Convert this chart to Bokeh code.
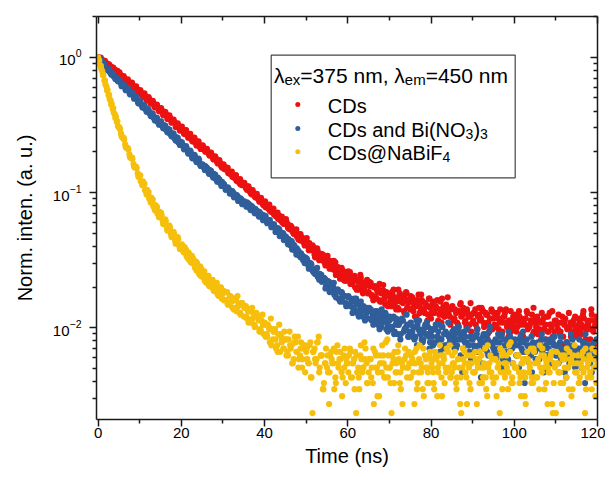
import math
from bokeh.plotting import figure
from bokeh.models import (Range1d, LinearAxis, LogAxis, FixedTicker, Label)
from bokeh.embed import file_html
from bokeh.resources import INLINE

# ---------------- data: photon counts ------------
# three interleaved channel sets: t = 0, 0.5, ... 120 ; t = 0.25, 0.75, ...
# and t = 0.125, 0.625, ... ; all normalised to the first channel
time_ns = [round(0.5 * i, 3) for i in range(241)]
time_mid_ns = [round(0.25 + 0.5 * i, 3) for i in range(240)]
time_q_ns = [round(0.125 + 0.5 * i, 3) for i in range(240)]
PEAK = 2560

cds_counts = [
    2560, 2468, 2441, 2330, 2312, 2203, 2188, 2079, 2071, 1955,
    1931, 1848, 1842, 1739, 1735, 1641, 1637, 1540, 1544, 1451,
    1440, 1360, 1352, 1276, 1270, 1196, 1193, 1121, 1125, 1050,
    1049, 1005, 985, 952, 922, 880, 871, 838, 795, 786,
    761, 725, 737, 690, 668, 652, 631, 617, 589, 566,
    556, 531, 537, 497, 486, 470, 461, 439, 433, 408,
    402, 381, 389, 360, 348, 341, 326, 322, 300, 295,
    291, 276, 283, 259, 248, 252, 236, 229, 226, 212,
    206, 204, 193, 189, 184, 176, 168, 172, 158, 160,
    150, 149, 137, 142, 127, 132, 121, 114, 119, 108,
    113, 103, 99, 104, 89, 96, 85, 82, 89, 77,
    81, 73, 76, 69, 78, 64, 67, 71, 58, 63,
    59, 66, 54, 61, 57, 50, 63, 52, 48, 56,
    47, 55, 44, 52, 49, 41, 46, 53, 38, 45,
    44, 37, 49, 40, 36, 46, 42, 34, 47, 39,
    35, 43, 38, 31, 45, 36, 40, 33, 37, 42,
    30, 39, 35, 41, 32, 28, 37, 34, 43, 31,
    36, 29, 33, 27, 38, 32, 35, 26, 31, 39,
    28, 33, 25, 36, 30, 34, 27, 32, 24, 35,
    30, 26, 33, 28, 23, 31, 35, 27, 29, 25,
    32, 24, 28, 30, 22, 27, 34, 26, 29, 23,
    28, 31, 25, 21, 30, 27, 24, 33, 26, 22,
    29, 25, 23, 31, 27, 20, 26, 28, 24, 30,
    22, 27, 25, 32, 26, 19, 29, 35, 24, 27,
    28,
]
cds_mid_counts = [
    2531, 2436, 2405, 2298, 2281, 2170, 2152, 2046, 2028, 1921,
    1910, 1812, 1801, 1710, 1703, 1612, 1608, 1518, 1510, 1420,
    1416, 1335, 1331, 1250, 1258, 1175, 1178, 1101, 1106, 1031,
    1040, 972, 975, 908, 915, 851, 856, 790, 802, 748,
    731, 738, 684, 693, 641, 650, 601, 610, 563, 570,
    555, 513, 522, 480, 489, 449, 458, 420, 427, 392,
    383, 392, 357, 364, 335, 341, 313, 320, 294, 299,
    290, 268, 274, 251, 256, 236, 240, 219, 224, 206,
    199, 207, 188, 193, 176, 180, 164, 169, 154, 158,
    156, 141, 145, 131, 135, 121, 126, 113, 117, 106,
    104, 108, 96, 101, 90, 95, 84, 89, 79, 84,
    75, 80, 70, 74, 65, 71, 61, 68, 57, 64,
    64, 55, 60, 51, 58, 49, 56, 47, 54, 46,
    52, 44, 51, 43, 50, 40, 48, 42, 47, 39,
    41, 45, 38, 43, 35, 44, 39, 42, 36, 40,
    40, 34, 39, 37, 33, 41, 35, 38, 32, 36,
    38, 33, 36, 29, 40, 34, 31, 37, 32, 35,
    30, 35, 28, 34, 31, 36, 29, 33, 27, 32,
    33, 27, 31, 29, 35, 26, 32, 28, 30, 25,
    27, 31, 25, 30, 28, 33, 26, 29, 24, 31,
    29, 26, 31, 23, 28, 30, 25, 27, 32, 24,
    26, 29, 23, 28, 25, 31, 24, 27, 22, 29,
    27, 24, 28, 22, 30, 25, 26, 23, 29, 25,
    24, 28, 23, 30, 25, 27, 21, 29, 26, 31,
]
cds_q_counts = [
    2490, 2540, 2350, 2405, 2215, 2270, 2090, 2150, 1960, 2030,
    1975, 1790, 1860, 1685, 1760, 1590, 1665, 1500, 1560, 1405,
    1465, 1320, 1385, 1240, 1300, 1160, 1220, 1090, 1145, 1020,
    1075, 955, 1010, 895, 950, 840, 885, 780, 830, 735,
    785, 695, 740, 650, 695, 612, 652, 570, 612, 538,
    572, 530, 538, 500, 505, 455, 474, 428, 445, 398,
    414, 380, 390, 352, 366, 330, 344, 309, 321, 290,
    302, 275, 284, 255, 267, 240, 250, 224, 234, 210,
    220, 200, 208, 184, 195, 172, 182, 161, 170, 150,
    163, 140, 146, 134, 127, 137, 115, 126, 116, 104,
    118, 96, 103, 97, 85, 99, 81, 90, 86, 74,
    87, 70, 75, 80, 63, 72, 59, 68, 66, 57,
    67, 54, 57, 62, 49, 55, 60, 46, 52, 58,
    56, 45, 41, 51, 47, 54, 40, 48, 44, 37,
    38, 47, 42, 35, 49, 40, 44, 33, 46, 41,
    44, 36, 31, 41, 38, 45, 34, 39, 29, 42,
    33, 40, 37, 28, 35, 42, 31, 38, 34, 27,
    37, 30, 34, 26, 39, 32, 28, 35, 31, 24,
    29, 35, 25, 32, 36, 28, 33, 23, 30, 34,
    33, 26, 30, 35, 24, 31, 28, 22, 34, 27,
    25, 31, 34, 27, 22, 30, 33, 26, 29, 36,
    30, 23, 28, 33, 25, 21, 31, 27, 34, 24,
    28, 32, 24, 19, 29, 26, 33, 22, 27, 31,
    23, 30, 27, 34, 21, 28, 25, 32, 19, 29,
]

cds_bi_counts = [
    2560, 2440, 2352, 2230, 2148, 2045, 1988, 1890, 1842, 1752,
    1702, 1630, 1612, 1519, 1495, 1415, 1382, 1320, 1289, 1214,
    1185, 1130, 1120, 1061, 1030, 990, 967, 920, 898, 852,
    840, 801, 781, 751, 710, 700, 666, 640, 622, 594,
    589, 553, 545, 517, 511, 478, 467, 446, 432, 412,
    414, 391, 389, 364, 359, 346, 338, 317, 312, 297,
    296, 281, 273, 268, 251, 255, 238, 241, 227, 226,
    218, 211, 209, 196, 201, 190, 184, 180, 172, 170,
    167, 159, 160, 150, 146, 142, 135, 137, 124, 127,
    119, 116, 108, 112, 101, 99, 95, 91, 87, 82,
    80, 74, 77, 68, 66, 70, 60, 63, 57, 59,
    52, 56, 48, 51, 45, 49, 42, 47, 44, 39,
    43, 38, 40, 35, 42, 34, 37, 31, 36, 33,
    30, 35, 32, 28, 34, 29, 26, 31, 33, 27,
    29, 25, 31, 27, 23, 28, 30, 24, 26, 22,
    27, 24, 21, 29, 25, 23, 20, 26, 28, 22,
    24, 19, 25, 22, 27, 21, 18, 24, 23, 20,
    22, 25, 18, 21, 23, 12, 24, 20, 19, 22,
    21, 18, 23, 19, 11, 22, 20, 17, 24, 19,
    18, 21, 16, 20, 23, 17, 19, 15, 22, 18,
    20, 16, 19, 22, 17, 10, 21, 18, 16, 20,
    17, 19, 15, 21, 18, 16, 13, 20, 17, 19,
    16, 18, 20, 15, 17, 11, 19, 16, 21, 17,
    15, 18, 16, 20, 10, 17, 19, 16, 18, 15,
    17,
]
cds_bi_mid_counts = [
    2512, 2381, 2325, 2176, 2121, 1990, 1962, 1842, 1818, 1701,
    1681, 1583, 1572, 1478, 1471, 1381, 1372, 1281, 1270, 1183,
    1148, 1139, 1066, 1063, 989, 987, 918, 915, 853, 856,
    806, 805, 748, 757, 697, 705, 650, 657, 603, 609,
    582, 540, 548, 501, 509, 465, 474, 435, 445, 409,
    397, 402, 371, 377, 346, 352, 324, 330, 302, 307,
    294, 273, 277, 257, 261, 241, 245, 227, 231, 216,
    211, 217, 200, 205, 189, 194, 178, 184, 169, 174,
    171, 156, 160, 146, 149, 136, 139, 126, 129, 118,
    113, 116, 104, 107, 96, 99, 88, 91, 81, 85,
    81, 72, 75, 66, 69, 61, 64, 56, 60, 52,
    55, 49, 52, 45, 48, 42, 47, 40, 44, 38,
    38, 42, 36, 40, 33, 39, 34, 37, 31, 35,
    34, 29, 33, 30, 27, 32, 28, 31, 25, 29,
    26, 30, 24, 28, 27, 23, 29, 25, 27, 24,
    23, 26, 22, 27, 24, 21, 25, 23, 26, 20,
    22, 25, 20, 24, 21, 26, 19, 23, 22, 21,
    20, 23, 19, 24, 21, 18, 22, 25, 17, 21,
    19, 22, 17, 21, 20, 18, 23, 16, 20, 19,
    17, 20, 18, 22, 15, 19, 21, 17, 18, 20,
    19, 16, 21, 18, 20, 15, 17, 19, 12, 18,
    18, 15, 19, 17, 21, 16, 18, 14, 20, 17,
    16, 19, 15, 18, 17, 20, 14, 17, 19, 16,
    18, 15, 17, 20, 16, 19, 14, 18, 16, 21,
]
cds_bi_q_counts = [
    2470, 2480, 2260, 2275, 2070, 2090, 1905, 1935, 1765, 1795,
    1735, 1565, 1612, 1460, 1512, 1362, 1410, 1265, 1308, 1168,
    1212, 1088, 1130, 1012, 1052, 940, 980, 872, 912, 812,
    858, 765, 800, 715, 748, 666, 698, 620, 650, 575,
    600, 534, 563, 497, 523, 458, 486, 430, 456, 402,
    412, 376, 392, 352, 370, 330, 347, 308, 320, 286,
    295, 268, 280, 252, 262, 236, 246, 222, 232, 210,
    220, 201, 212, 190, 199, 180, 188, 170, 178, 160,
    169, 152, 160, 142, 149, 131, 139, 122, 129, 114,
    121, 106, 112, 97, 104, 89, 95, 85, 87, 77,
    83, 70, 76, 68, 64, 71, 58, 63, 60, 50,
    57, 47, 51, 55, 43, 49, 40, 46, 44, 37,
    44, 37, 33, 42, 38, 31, 40, 35, 29, 36,
    36, 30, 27, 34, 31, 25, 35, 29, 32, 24,
    31, 26, 23, 30, 27, 21, 29, 25, 32, 22,
    28, 22, 26, 19, 29, 24, 21, 27, 23, 18,
    25, 20, 27, 22, 17, 26, 23, 19, 28, 21,
    24, 18, 21, 26, 16, 23, 20, 25, 19, 15,
    22, 17, 25, 19, 14, 23, 18, 21, 26, 16,
    20, 15, 23, 18, 13, 21, 17, 24, 19, 14,
    21, 16, 13, 20, 24, 17, 19, 14, 22, 18,
    15, 20, 18, 23, 12, 19, 16, 21, 14, 22,
    19, 14, 22, 17, 12, 20, 15, 23, 18, 13,
    16, 21, 13, 19, 23, 15, 18, 12, 20, 17,
]

cds_nabif4_counts = [
    2560, 2231, 2012, 1722, 1549, 1340, 1221, 1062, 968, 849,
    776, 697, 648, 580, 545, 490, 461, 416, 395, 355,
    338, 304, 292, 260, 252, 228, 222, 199, 196, 177,
    176, 158, 158, 141, 142, 126, 127, 112, 117, 103,
    105, 97, 92, 89, 81, 87, 76, 79, 68, 73,
    61, 67, 55, 62, 52, 58, 49, 55, 44, 51,
    46, 41, 47, 38, 43, 36, 41, 44, 33, 39,
    31, 37, 34, 29, 36, 27, 33, 30, 25, 32,
    28, 23, 26, 30, 21, 25, 19, 27, 22, 18,
    21, 17, 24, 19, 15, 20, 22, 16, 13, 19,
    17, 14, 20, 6, 18, 15, 22, 16, 9, 14,
    13, 7, 17, 14, 11, 19, 15, 12, 16, 10,
    14, 18, 11, 15, 6, 13, 16, 12, 20, 14,
    12, 15, 10, 17, 13, 8, 14, 16, 11, 21,
    13, 6, 15, 12, 17, 10, 14, 5, 16, 13,
    11, 15, 7, 18, 12, 14, 9, 16, 13, 10,
    15, 12, 17, 8, 14, 11, 16, 13, 5, 19,
    12, 14, 10, 15, 7, 13, 17, 11, 14, 9,
    16, 12, 7, 15, 13, 11, 18, 8, 14, 12,
    10, 15, 13, 6, 16, 12, 14, 9, 17, 11,
    5, 13, 16, 11, 14, 8, 15, 12, 18, 10,
    14, 11, 9, 16, 13, 15, 7, 12, 17, 10,
    6, 14, 12, 7, 16, 11, 13, 15, 9, 19,
    12, 10, 14, 17, 6, 13, 16, 11, 15, 8,
    14,
]
cds_nabif4_mid_counts = [
    2412, 2098, 1893, 1611, 1470, 1255, 1160, 995, 931, 790,
    752, 655, 631, 548, 532, 462, 453, 392, 388, 334,
    310, 309, 266, 268, 231, 235, 202, 207, 179, 184,
    174, 151, 157, 135, 141, 121, 126, 109, 116, 99,
    96, 101, 86, 92, 78, 84, 71, 77, 64, 70,
    66, 57, 61, 52, 57, 48, 53, 45, 50, 42,
    41, 47, 39, 44, 36, 42, 34, 39, 32, 38,
    36, 30, 35, 28, 33, 26, 31, 24, 29, 23,
    22, 27, 20, 25, 24, 18, 23, 17, 21, 24,
    16, 21, 18, 14, 22, 17, 15, 20, 18, 12,
    15, 19, 11, 17, 14, 20, 13, 16, 10, 18,
    12, 16, 14, 9, 17, 13, 15, 11, 18, 14,
    16, 11, 14, 17, 12, 9, 15, 13, 18, 10,
    15, 13, 7, 16, 12, 14, 19, 11, 13, 16,
    10, 14, 17, 12, 15, 9, 13, 18, 11, 14,
    16, 12, 14, 10, 19, 13, 8, 15, 12, 17,
    13, 9, 15, 12, 16, 14, 10, 18, 13, 11,
    14, 17, 11, 13, 6, 15, 12, 16, 10, 14,
    12, 15, 13, 17, 10, 14, 9, 13, 16, 11,
    15, 8, 14, 12, 17, 11, 13, 19, 10, 14,
    13, 16, 10, 14, 12, 7, 15, 13, 11, 17,
    11, 15, 13, 18, 9, 14, 12, 16, 6, 13,
    14, 12, 16, 10, 15, 13, 17, 8, 14, 12,
    16, 11, 13, 15, 9, 14, 12, 18, 13, 10,
]
cds_nabif4_q_counts = [
    2440, 2215, 1895, 1730, 1455, 1350, 1140, 1075, 910, 860,
    772, 668, 648, 558, 545, 470, 463, 398, 397, 340,
    343, 290, 297, 248, 258, 216, 227, 189, 201, 168,
    181, 150, 162, 134, 146, 120, 131, 107, 120, 98,
    106, 92, 97, 83, 88, 77, 80, 68, 72, 62,
    67, 57, 62, 53, 58, 50, 54, 46, 51, 43,
    48, 41, 38, 44, 40, 35, 42, 37, 33, 39,
    36, 31, 28, 34, 30, 26, 32, 29, 24, 27,
    27, 22, 25, 19, 24, 21, 17, 23, 20, 18,
    21, 16, 19, 14, 20, 17, 13, 18, 15, 19,
    18, 14, 11, 17, 15, 20, 12, 16, 9, 14,
    16, 12, 15, 18, 10, 14, 17, 8, 13, 15,
    12, 17, 14, 9, 16, 11, 19, 13, 15, 10,
    15, 11, 18, 13, 8, 16, 12, 14, 20, 11,
    13, 16, 10, 14, 19, 12, 7, 15, 13, 17,
    11, 14, 17, 9, 15, 12, 18, 13, 10, 16,
    14, 10, 16, 13, 19, 8, 15, 12, 17, 11,
    16, 13, 9, 15, 11, 18, 14, 7, 13, 16,
    12, 17, 14, 10, 16, 13, 11, 19, 12, 15,
    15, 11, 13, 18, 9, 14, 16, 12, 20, 10,
    13, 16, 12, 8, 15, 11, 17, 14, 10, 18,
    11, 14, 19, 12, 16, 10, 13, 15, 7, 14,
    17, 12, 10, 15, 13, 18, 9, 14, 16, 12,
    14, 10, 16, 12, 18, 11, 15, 9, 13, 17,
]

x_ticks = [0, 20, 40, 60, 80, 100, 120]
x_minor = [10, 30, 50, 70, 90, 110]
y_ticks = [0.01, 0.1, 1.0]

RED = "#EC1111"
BLUE = "#2F5E9A"
YELLOW = "#F6BF0C"
AXIS = "#1a1a1a"
FONT = "Liberation Sans"

# ---------------- figure ---------------------------------------------------
XS, XE = -0.4, 120.0
YS, YE = 0.0021, 2.0
FW, FH = 501, 403
p = figure(frame_width=FW, frame_height=FH,
           x_range=Range1d(XS, XE), y_range=Range1d(YS, YE),
           y_axis_type="log", output_backend="svg", toolbar_location=None,
           min_border_left=96, min_border_right=8,
           min_border_top=16, min_border_bottom=51,
           background_fill_color="white", border_fill_color="white")
p.grid.visible = False
p.outline_line_color = None

minor_log = [k * 10.0 ** e for e in (-3, -2, -1, 0) for k in range(2, 10)]


def style(ax):
    ax.axis_line_width = 1.5
    ax.axis_line_color = AXIS
    ax.major_tick_line_width = 1.5
    ax.minor_tick_line_width = 1.5
    ax.major_tick_line_color = AXIS
    ax.minor_tick_line_color = AXIS
    ax.major_label_text_font = FONT
    ax.major_label_text_font_size = "15px"
    ax.major_label_text_color = "black"
    ax.axis_label_text_font = FONT
    ax.axis_label_text_font_size = "20px"
    ax.axis_label_text_font_style = "normal"
    ax.axis_label_text_color = "black"


def mirror(ax):
    style(ax)
    ax.major_tick_in = 7
    ax.major_tick_out = 0
    ax.minor_tick_in = 4
    ax.minor_tick_out = 0
    ax.major_label_text_font_size = "1px"
    ax.major_label_text_color = None
    ax.major_label_standoff = 0


xa = p.xaxis[0]
xa.ticker = FixedTicker(ticks=x_ticks, minor_ticks=x_minor)
style(xa)
xa.major_tick_out = 7
xa.major_tick_in = 0
xa.minor_tick_out = 4
xa.minor_tick_in = 0
xa.major_label_standoff = 1
xa.axis_label = "Time (ns)"
xa.axis_label_standoff = 4

ya = p.yaxis[0]
ya.ticker = FixedTicker(ticks=y_ticks, minor_ticks=minor_log)
style(ya)
ya.major_tick_out = 7
ya.major_tick_in = 0
ya.minor_tick_out = 4
ya.minor_tick_in = 0
ya.major_label_standoff = 8
ya.axis_label = "Norm. inten. (a. u.)"
ya.axis_label_standoff = 14

top = LinearAxis(ticker=FixedTicker(ticks=x_ticks, minor_ticks=x_minor))
mirror(top)
p.add_layout(top, "above")

right = LogAxis(ticker=FixedTicker(ticks=y_ticks, minor_ticks=minor_log))
mirror(right)
p.add_layout(right, "right")

# ---------------- data marks ----------------------------------------------
for sets, col in (((cds_counts, cds_mid_counts, cds_q_counts), RED),
                  ((cds_bi_counts, cds_bi_mid_counts, cds_bi_q_counts), BLUE),
                  ((cds_nabif4_counts, cds_nabif4_mid_counts,
                    cds_nabif4_q_counts), YELLOW)):
    xs = time_ns + time_mid_ns + time_q_ns
    ys = [c / PEAK for c in sets[0] + sets[1] + sets[2]]
    p.scatter(x=xs, y=ys, marker="circle", size=6.2,
              fill_color=col, line_color=None)

# ---------------- legend, laid out in page pixels --------------------------
X0, Y0 = 98.0, 18.0   # frame top-left on the page


def px_x(px):
    return XS + (px - X0) * (XE - XS) / FW


def px_y(py):
    lt, lb = math.log10(YE), math.log10(YS)
    return 10 ** (lt - (py - Y0) / FH * (lt - lb))


p.quad(left=[px_x(272.7)], right=[px_x(516.7)],
       top=[px_y(56.7)], bottom=[px_y(179.3)],
       fill_color="white", line_color="#444444", line_width=1.2)

W = {' ': 278, ',': 278, '.': 278, '(': 333, ')': 333, '=': 584, '@': 1015,
     'B': 667, 'C': 722, 'D': 722, 'F': 611, 'N': 722, 'O': 778, 'a': 556,
     'd': 556, 'e': 556, 'i': 222, 'm': 833, 'n': 556, 's': 500, 'x': 500,
     'λ': 500}


def tw(s, size):
    return sum(W.get(ch, 556) for ch in s) * size / 1000.0


def rich(pieces, x_px, base_px):
    x = x_px
    for txt, size, drop in pieces:
        p.add_layout(Label(x=px_x(x), y=px_y(base_px + drop), text=txt,
                           text_font=FONT, text_font_size=f"{size}px",
                           text_color="black", text_align="left",
                           text_baseline="alphabetic"))
        x += tw(txt, size)


rich([("λ", 21, 0), ("ex", 15, 4), ("=375 nm, ", 21, 0),
      ("λ", 21, 0), ("em", 15, 4), ("=450 nm", 21, 0)], 275.5, 76.5)

entry_y = [106.0, 130.0, 153.3]
entry_pieces = [
    [("CDs", 20, 0)],
    [("CDs and Bi(NO", 20, 0), ("3", 14, 4), (")", 20, 0), ("3", 14, 4)],
    [("CDs@NaBiF", 20, 0), ("4", 14, 4)],
]
for yy, pcs, col in zip(entry_y, entry_pieces, (RED, BLUE, YELLOW)):
    p.scatter(x=[px_x(299.3)], y=[px_y(yy)], marker="circle", size=5,
              fill_color=col, line_color=None)
    rich(pcs, 329.3, yy + 1.0)

open("out.html", "w").write(file_html(p, INLINE))
